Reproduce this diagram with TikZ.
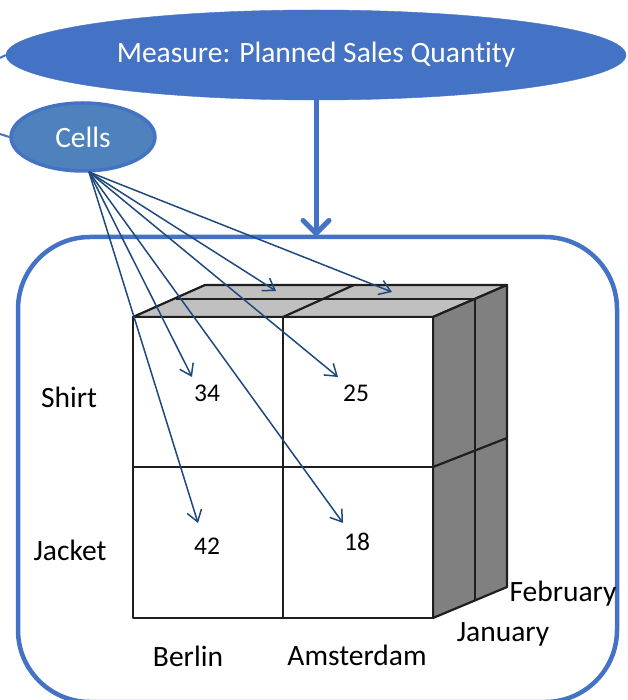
\documentclass[tikz,border=0pt]{standalone}
\usepackage{fontspec}
\setmainfont{Carlito}[Ligatures=NoCommon]
\usetikzlibrary{arrows.meta,shapes.geometric}
\definecolor{accent}{HTML}{4472C4}
\definecolor{cellfill}{HTML}{4F81BD}
\definecolor{darrow}{HTML}{1F497D}
\definecolor{topgray}{HTML}{C0C0C0}
\definecolor{sidegray}{HTML}{808080}
\begin{document}
\begin{tikzpicture}[x=1pt,y=-1pt,
  lbl/.style={font=\fontsize{29.5}{33}\selectfont, inner sep=0pt},
  num/.style={font=\fontsize{25.5}{30}\selectfont, inner sep=0pt},
  cellarrow/.style={draw=darrow, line width=1.5pt, -{Straight Barb[length=11pt,width=15pt]}},
  bigarrow/.style={draw=accent, line width=5pt, line cap=round, -{Straight Barb[length=13pt,width=26pt,line cap=round]}},
  edge/.style={draw=black!88, line width=2.2pt, line join=round}]
\useasboundingbox (0,0) rectangle (627,700);

% frame
\node[draw=accent, line width=4.5pt, rounded corners=72pt, minimum width=599pt, minimum height=465pt, inner sep=0pt, outer sep=0pt] (frame) at (317.5,469.5) {};

% measure ellipse
\node[ellipse, fill=accent, draw=accent, minimum width=620pt, minimum height=90pt, inner sep=0pt, text=white, font=\fontsize{29.5}{33}\selectfont] (measure) at (316,55) {Measure: Planned Sales Quantity};
\coordinate (mstub) at (0,58);
\draw[accent, line width=2pt] (mstub) -- (measure.west);

% cells ellipse
\node[ellipse, fill=cellfill, draw=accent, line width=3.5pt, minimum width=144pt, minimum height=68pt, inner sep=0pt, text=white, font=\fontsize{29.5}{33}\selectfont] (cells) at (83,137) {Cells};
\coordinate (cstub) at (0,134);
\draw[accent, line width=2pt] (cstub) -- (cells.west);

% big arrow
\draw[bigarrow] (measure.south) -- (measure.south |- frame.north);

% cube coordinates
\coordinate (fTL) at (133,317);
\coordinate (fTM) at (283,317);
\coordinate (fTR) at (433,317);
\coordinate (fML) at (133,467);
\coordinate (fMR) at (433,467);
\coordinate (fBL) at (133,618);
\coordinate (fBM) at (283,618);
\coordinate (fBR) at (433,618);
\coordinate (mTL) at (176,299);
\coordinate (mTR) at (475,299);
\coordinate (mBR) at (475,601);
\coordinate (bTL) at (205,285);
\coordinate (bTM) at (354,285);
\coordinate (bTR) at (507,285);
\coordinate (bMR) at (507,438);
\coordinate (bBR) at (507,587);

% top face
\filldraw[edge, fill=topgray] (fTL) -- (fTR) -- (bTR) -- (bTL) -- cycle;
\draw[edge] (mTL) -- (mTR);
\draw[edge] (fTM) -- (bTM);
% right face
\filldraw[edge, fill=sidegray] (fTR) -- (bTR) -- (bBR) -- (fBR) -- cycle;
\draw[edge] (mTR) -- (mBR);
\draw[edge] (fMR) -- (bMR);
% front face
\filldraw[edge, fill=white] (fTL) rectangle (fBR);
\draw[edge] (fTM) -- (fBM);
\draw[edge] (fML) -- (fMR);

% values
\node[num] (v34) at (207,393) {34};
\node[num] (v25) at (356,393) {25};
\node[num] (v42) at (207,546) {42};
\node[num] (v18) at (357,542) {18};

% labels
\node[lbl] (shirt) at (69,397) {Shirt};
\node[lbl] (jacket) at (70,550) {Jacket};
\node[lbl] (berlin) at (188,656) {Berlin};
\node[lbl] (amsterdam) at (357,655) {Amsterdam};
\node[lbl] (january) at (503,634) {January};
\node[lbl] (february) at (563,594) {February};

% cell arrows
\coordinate (src) at (89,172);
\coordinate (t1) at (276,291);
\coordinate (t2) at (392,292);
\coordinate (t3) at (192,377);
\coordinate (t4) at (338,377);
\coordinate (t5) at (198,523);
\coordinate (t6) at (343,523);
\foreach \t in {t1,t2,t3,t4,t5,t6} {\draw[cellarrow] (src) -- (\t);}
\end{tikzpicture}
\end{document}
